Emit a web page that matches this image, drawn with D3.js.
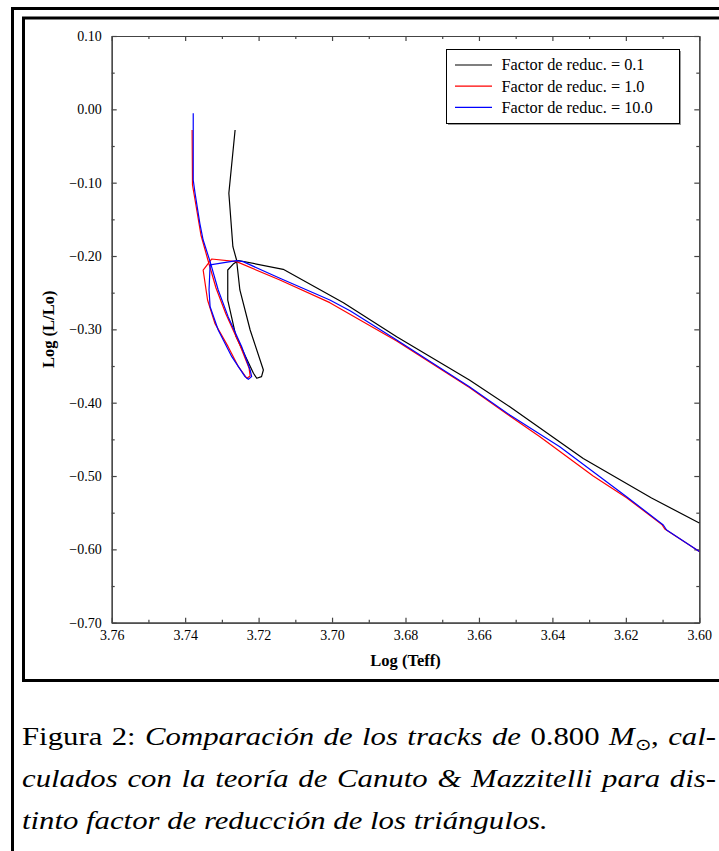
<!DOCTYPE html>
<html>
<head>
<meta charset="utf-8">
<script src="https://cdn.jsdelivr.net/npm/d3@7"></script>
<style>
  html, body { margin: 0; padding: 0; background: #fff; }
  svg { display: block; }
</style>
</head>
<body>
<div id="chart"></div>
<script>
// tracks [log Teff, log L/Lo]
const trackBlack = [
  [3.600,-0.564],[3.613,-0.530],[3.6316,-0.476],[3.6516,-0.4055],[3.6626,-0.369],
  [3.6824,-0.310],[3.6969,-0.2636],[3.7133,-0.2181],[3.7255,-0.2061],[3.7268,-0.2105],
  [3.7284,-0.2191],[3.7284,-0.2600],[3.7262,-0.3090],[3.7214,-0.3599],[3.7205,-0.3667],
  [3.7192,-0.3645],[3.7187,-0.3554],[3.7223,-0.3009],[3.7251,-0.2463],[3.7260,-0.2054],
  [3.7270,-0.1873],[3.7281,-0.1145],[3.7264,-0.0282]
];
const trackRed = [
  [3.600,-0.603],[3.6094,-0.5722],[3.6102,-0.5660],[3.6198,-0.5296],[3.6289,-0.500],
  [3.6434,-0.4465],[3.6516,-0.4182],[3.6626,-0.3792],[3.6824,-0.3159],[3.7006,-0.2636],
  [3.7142,-0.2327],[3.7260,-0.2077],[3.7328,-0.2041],[3.7351,-0.2191],[3.7339,-0.2600],
  [3.7319,-0.2918],[3.7283,-0.3236],[3.7255,-0.3509],[3.7232,-0.3667],[3.7223,-0.3636],
  [3.7226,-0.3527],[3.7251,-0.3213],[3.7289,-0.2791],[3.7316,-0.2436],[3.7338,-0.2054],
  [3.7357,-0.1713],[3.7373,-0.1236],[3.7380,-0.1032],[3.7381,-0.0282]
];
const trackBlue = [
  [3.600,-0.603],[3.6089,-0.5736],[3.6098,-0.5668],[3.6198,-0.5282],[3.6380,-0.4600],
  [3.6516,-0.4168],[3.6626,-0.3782],[3.6824,-0.3145],[3.6951,-0.2746],[3.7006,-0.2600],
  [3.7142,-0.2304],[3.7242,-0.2077],[3.7260,-0.2064],[3.7332,-0.2122],[3.7335,-0.2463],
  [3.7332,-0.2691],[3.7310,-0.3009],[3.7273,-0.3373],[3.7237,-0.3645],[3.7228,-0.3681],
  [3.7219,-0.3645],[3.7223,-0.3554],[3.7246,-0.3236],[3.7283,-0.2827],[3.7310,-0.2463],
  [3.7332,-0.2077],[3.7351,-0.1782],[3.7360,-0.1554],[3.7373,-0.1145],[3.7378,-0.0963],
  [3.7378,-0.0054]
];

const seriesNames = ["Factor de reduc. = 0.1", "Factor de reduc. = 1.0", "Factor de reduc. = 10.0"];
const seriesColors = ["#000000", "#ff0000", "#0000ff"];

const xTicks = [3.76, 3.74, 3.72, 3.70, 3.68, 3.66, 3.64, 3.62, 3.60];
const xMinor = [3.75, 3.73, 3.71, 3.69, 3.67, 3.65, 3.63, 3.61];
const yTicks = [0.10, 0.00, -0.10, -0.20, -0.30, -0.40, -0.50, -0.60, -0.70];
const yMinor = [0.05, -0.05, -0.15, -0.25, -0.35, -0.45, -0.55, -0.65];

const captionLines = [
  [["Figura 2: ", "n"], ["Comparación de los tracks de ", "i"], ["0.800 ", "n"], ["M", "i"], ["\u2299", "sub"], [", ", "n"], ["cal-", "i"]],
  [["culados con la teoría de Canuto & Mazzitelli para dis-", "i"]],
  [["tinto factor de reducción de los triángulos.", "i"]]
];

// Configuración
const W = 719, H = 851;
const plot = {left: 111.7, right: 699.3, top: 36, bottom: 622.7};
const serif = "'Liberation Serif', 'Times New Roman', serif";

const svg = d3.select("#chart").append("svg")
  .attr("width", W).attr("height", H);

// marcos
svg.append("rect")
  .attr("x", 12.5).attr("y", 8.5).attr("width", 800).attr("height", 900)
  .attr("fill", "none").attr("stroke", "#000").attr("stroke-width", 3);
svg.append("rect")
  .attr("x", 23.5).attr("y", 18).attr("width", 800).attr("height", 662.5)
  .attr("fill", "none").attr("stroke", "#000").attr("stroke-width", 3);

const x = d3.scaleLinear().domain([3.76, 3.60]).range([plot.left, plot.right]);
const y = d3.scaleLinear().domain([-0.70, 0.10]).range([plot.bottom, plot.top]);

const axisColor = "#444";
function styleAxis(g) {
  g.select(".domain").attr("stroke", axisColor).attr("stroke-width", 1.2);
  g.selectAll(".tick line").attr("stroke", axisColor).attr("stroke-width", 1.2);
  g.selectAll(".tick text").attr("fill", "#000")
    .style("font-family", serif)
    .style("font-size", "14px");
}

// ejes abajo / izquierda con etiquetas
svg.append("g").attr("transform", `translate(0,${plot.bottom})`)
  .call(d3.axisBottom(x).tickValues(xTicks).tickFormat(d3.format(".2f"))
    .tickSize(-5).tickSizeOuter(0).tickPadding(7))
  .call(styleAxis);
svg.append("g").attr("transform", `translate(0,${plot.bottom})`)
  .call(d3.axisBottom(x).tickValues(xMinor).tickFormat("").tickSize(-3).tickSizeOuter(0))
  .call(styleAxis);
svg.append("g").attr("transform", `translate(${plot.left},0)`)
  .call(d3.axisLeft(y).tickValues(yTicks).tickFormat(d3.format(".2f"))
    .tickSize(-5).tickSizeOuter(0).tickPadding(10))
  .call(styleAxis);
svg.append("g").attr("transform", `translate(${plot.left},0)`)
  .call(d3.axisLeft(y).tickValues(yMinor).tickFormat("").tickSize(-3).tickSizeOuter(0))
  .call(styleAxis);

// ejes espejo arriba / derecha
svg.append("g").attr("transform", `translate(0,${plot.top})`)
  .call(d3.axisTop(x).tickValues(xTicks).tickFormat("").tickSize(-5).tickSizeOuter(0))
  .call(styleAxis);
svg.append("g").attr("transform", `translate(0,${plot.top})`)
  .call(d3.axisTop(x).tickValues(xMinor).tickFormat("").tickSize(-3).tickSizeOuter(0))
  .call(styleAxis);
svg.append("g").attr("transform", `translate(${plot.right},0)`)
  .call(d3.axisRight(y).tickValues(yTicks).tickFormat("").tickSize(-5).tickSizeOuter(0))
  .call(styleAxis);
svg.append("g").attr("transform", `translate(${plot.right},0)`)
  .call(d3.axisRight(y).tickValues(yMinor).tickFormat("").tickSize(-3).tickSizeOuter(0))
  .call(styleAxis);

// titulos de ejes
svg.append("text")
  .attr("x", (plot.left + plot.right) / 2).attr("y", 666)
  .attr("text-anchor", "middle")
  .style("font-family", serif)
  .style("font-size", "16.5px").style("font-weight", "bold")
  .text("Log (Teff)");
svg.append("text")
  .attr("transform", `translate(54,${(plot.top + plot.bottom) / 2}) rotate(-90)`)
  .attr("text-anchor", "middle")
  .style("font-family", serif)
  .style("font-size", "16.5px").style("font-weight", "bold")
  .text("Log (L/Lo)");

// tracks
const line = d3.line().x(d => x(d[0])).y(d => y(d[1]));
const tracks = [trackBlack, trackRed, trackBlue];
svg.append("g").selectAll("path")
  .data(tracks)
  .enter().append("path")
  .attr("d", line)
  .attr("fill", "none")
  .attr("stroke", (d, i) => seriesColors[i])
  .attr("stroke-width", 1.2)
  .attr("stroke-linejoin", "round");

// leyenda
const legend = svg.append("g").attr("transform", "translate(446,49)");
legend.append("rect")
  .attr("x", 2).attr("y", 2).attr("width", 233).attr("height", 74)
  .attr("fill", "#999");
legend.append("rect")
  .attr("x", 0.5).attr("y", 0.5).attr("width", 233).attr("height", 74)
  .attr("fill", "#fff").attr("stroke", "#000").attr("stroke-width", 1);
const item = legend.selectAll(".item")
  .data(seriesNames)
  .enter().append("g")
  .attr("class", "item")
  .attr("transform", (d, i) => `translate(0,${16 + i * 21.2})`);
item.append("line")
  .attr("x1", 9).attr("x2", 46)
  .attr("stroke", (d, i) => seriesColors[i]).attr("stroke-width", 1.2);
item.append("text")
  .attr("x", 55.5).attr("y", 5.3)
  .style("font-family", serif)
  .style("font-size", "16.3px")
  .text(d => d);

// pie de figura
const capX = 22, capRight = 716, capLastRight = 548;
const baselines = [745, 787, 829];
const capTexts = captionLines.map((parts, i) => {
  const t = svg.append("text")
    .attr("transform", `translate(${capX},${baselines[i]})`)
    .style("font-family", serif)
    .style("font-size", "25px")
    .attr("xml:space", "preserve");
  parts.forEach((p, j) => {
    const ts = t.append("tspan").text(p[0]);
    if (p[1] === "i") ts.style("font-style", "italic");
    if (p[1] === "sub") ts.style("font-size", "16px").attr("dy", 5);
    if (j > 0 && parts[j - 1][1] === "sub") ts.attr("dy", -5);
  });
  return t;
});
// escala horizontal a partir de la última linea, luego justificar
const s = (capLastRight - capX) / capTexts[2].node().getComputedTextLength();
capTexts.forEach((t, i) => {
  t.attr("transform", `translate(${capX},${baselines[i]}) scale(${s},1)`);
  if (i < 2) {
    const w = t.node().getComputedTextLength();
    const nSpaces = (t.text().match(/ /g) || []).length;
    const extra = ((capRight - capX) / s - w) / nSpaces;
    t.style("word-spacing", extra + "px");
  }
});
</script>
</body>
</html>
